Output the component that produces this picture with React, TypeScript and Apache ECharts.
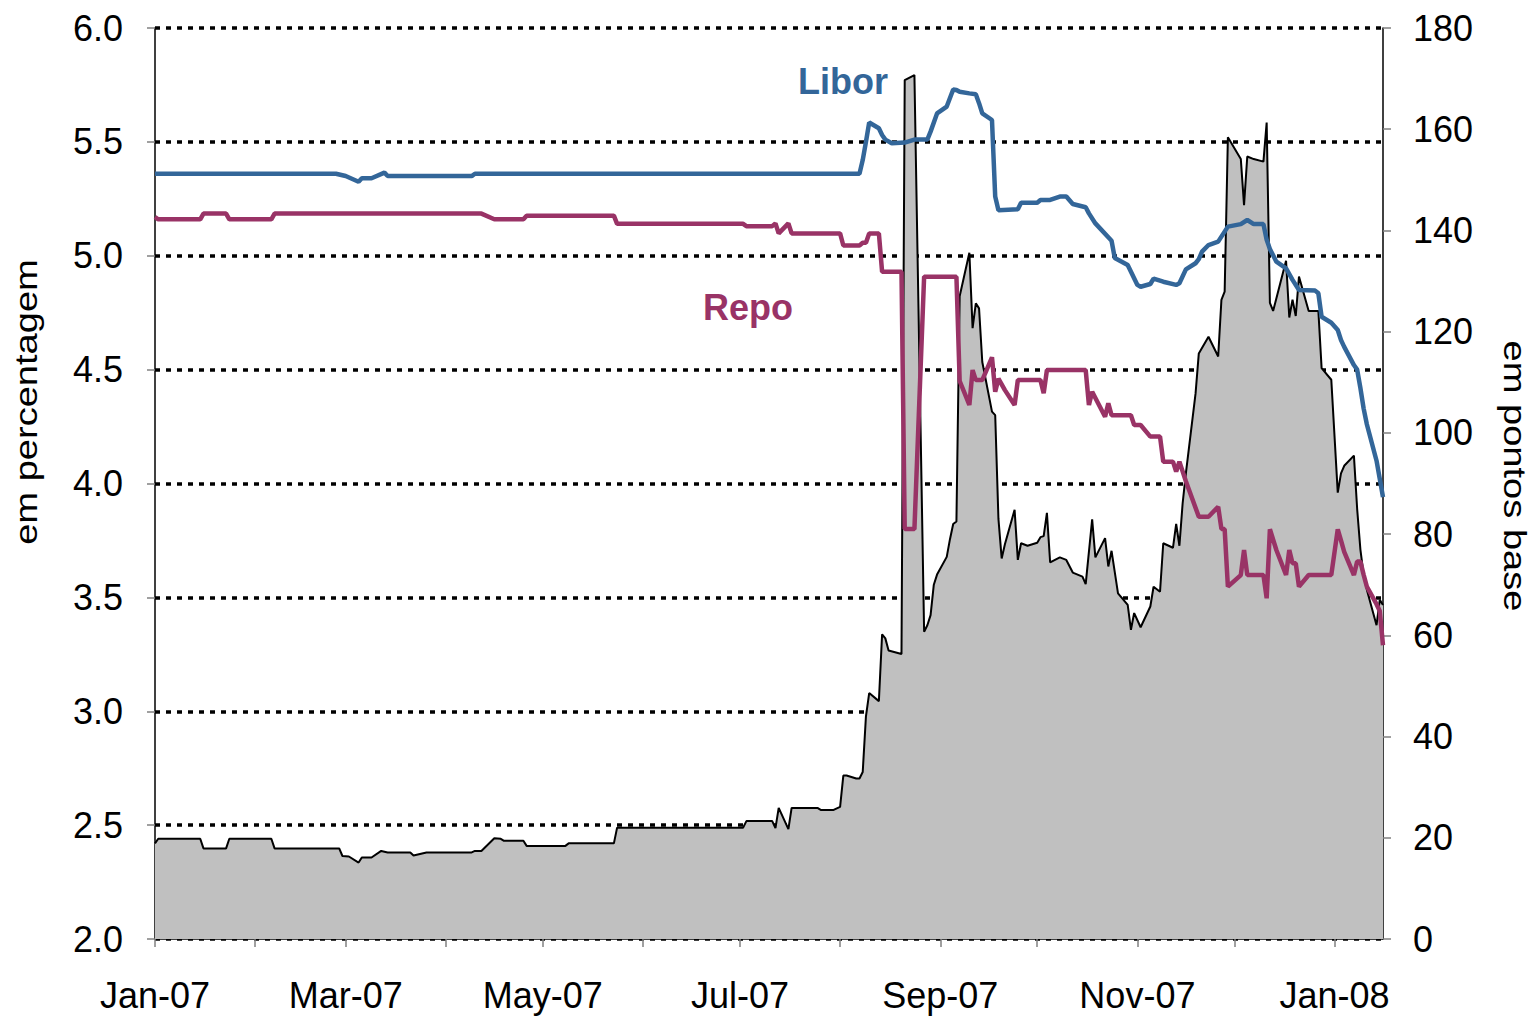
import React, { useEffect, useRef } from "react";
import * as echarts from "echarts";

// ---- Data ----
const xMin = "2007-01-01";
const xMax = "2008-01-16";
const monthNames = ["Jan", "Feb", "Mar", "Apr", "May", "Jun", "Jul", "Aug", "Sep", "Oct", "Nov", "Dec"];

const leftTicks = [2.0, 2.5, 3.0, 3.5, 4.0, 4.5, 5.0, 5.5, 6.0];
const rightTicks = [0, 20, 40, 60, 80, 100, 120, 140, 160, 180];

const liborDates = [
  "2007-01-01", "2007-02-26", "2007-03-01", "2007-03-05", "2007-03-06", "2007-03-09", "2007-03-13", "2007-03-14",
  "2007-04-09", "2007-04-10", "2007-08-07", "2007-08-08", "2007-08-09", "2007-08-10", "2007-08-13", "2007-08-14",
  "2007-08-15", "2007-08-17", "2007-08-21", "2007-08-24", "2007-08-28", "2007-08-29", "2007-08-31", "2007-09-03",
  "2007-09-05", "2007-09-06", "2007-09-07", "2007-09-10", "2007-09-12", "2007-09-13", "2007-09-14", "2007-09-17",
  "2007-09-18", "2007-09-19", "2007-09-25", "2007-09-26", "2007-10-01", "2007-10-02", "2007-10-05", "2007-10-08",
  "2007-10-10", "2007-10-12", "2007-10-16", "2007-10-17", "2007-10-19", "2007-10-24", "2007-10-25", "2007-10-29",
  "2007-11-01", "2007-11-02", "2007-11-05", "2007-11-06", "2007-11-09", "2007-11-13", "2007-11-14", "2007-11-16",
  "2007-11-19", "2007-11-20", "2007-11-21", "2007-11-23", "2007-11-26", "2007-11-29", "2007-12-03", "2007-12-05",
  "2007-12-07", "2007-12-10", "2007-12-11", "2007-12-12", "2007-12-14", "2007-12-17", "2007-12-19", "2007-12-21",
  "2007-12-26", "2007-12-27", "2007-12-28", "2007-12-31", "2008-01-02", "2008-01-03", "2008-01-04", "2008-01-07",
  "2008-01-08", "2008-01-09", "2008-01-10", "2008-01-11", "2008-01-14", "2008-01-15", "2008-01-16",
];
const liborValues = [
  5.36, 5.36, 5.35, 5.325, 5.34, 5.34, 5.365, 5.35,
  5.35, 5.36, 5.36, 5.42, 5.5, 5.585, 5.56, 5.53,
  5.51, 5.494, 5.497, 5.51, 5.51, 5.545, 5.625, 5.655,
  5.73, 5.728, 5.72, 5.713, 5.709, 5.67, 5.625, 5.596,
  5.26, 5.2, 5.204, 5.233, 5.233, 5.245, 5.245, 5.26,
  5.26, 5.227, 5.213, 5.186, 5.142, 5.066, 4.99, 4.959,
  4.872, 4.864, 4.876, 4.9, 4.886, 4.872, 4.879, 4.94,
  4.967, 4.985, 5.018, 5.047, 5.062, 5.128, 5.139, 5.157,
  5.139, 5.139, 5.07, 5.03, 4.974, 4.945, 4.894, 4.85,
  4.847, 4.835, 4.732, 4.706, 4.674, 4.63, 4.6, 4.52,
  4.5, 4.42, 4.33, 4.26, 4.1, 4.02, 3.94,
];

const repoDates = [
  "2007-01-01", "2007-01-02", "2007-01-15", "2007-01-16", "2007-01-23", "2007-01-24", "2007-02-06", "2007-02-07",
  "2007-04-12", "2007-04-16", "2007-04-25", "2007-04-26", "2007-05-23", "2007-05-24", "2007-07-02", "2007-07-03",
  "2007-07-11", "2007-07-12", "2007-07-13", "2007-07-16", "2007-07-17", "2007-08-01", "2007-08-02", "2007-08-07",
  "2007-08-08", "2007-08-09", "2007-08-10", "2007-08-13", "2007-08-14", "2007-08-20", "2007-08-21", "2007-08-24",
  "2007-08-27", "2007-09-06", "2007-09-07", "2007-09-10", "2007-09-11", "2007-09-12", "2007-09-14", "2007-09-17",
  "2007-09-18", "2007-09-19", "2007-09-21", "2007-09-24", "2007-09-25", "2007-10-02", "2007-10-03", "2007-10-04",
  "2007-10-16", "2007-10-17", "2007-10-18", "2007-10-22", "2007-10-23", "2007-10-24", "2007-10-30", "2007-10-31",
  "2007-11-02", "2007-11-05", "2007-11-08", "2007-11-09", "2007-11-12", "2007-11-13", "2007-11-14", "2007-11-16",
  "2007-11-20", "2007-11-23", "2007-11-26", "2007-11-27", "2007-11-28", "2007-11-29", "2007-12-03", "2007-12-04",
  "2007-12-05", "2007-12-10", "2007-12-11", "2007-12-12", "2007-12-14", "2007-12-17", "2007-12-18", "2007-12-19",
  "2007-12-20", "2007-12-21", "2007-12-24", "2007-12-31", "2008-01-02", "2008-01-03", "2008-01-04", "2008-01-07",
  "2008-01-08", "2008-01-09", "2008-01-10", "2008-01-11", "2008-01-14", "2008-01-15", "2008-01-16",
];
const repoValues = [
  5.17, 5.16, 5.16, 5.185, 5.185, 5.16, 5.16, 5.185,
  5.185, 5.16, 5.16, 5.176, 5.176, 5.14, 5.14, 5.13,
  5.13, 5.142, 5.098, 5.142, 5.098, 5.098, 5.045, 5.045,
  5.057, 5.057, 5.098, 5.098, 4.93, 4.93, 3.8, 3.8,
  4.908, 4.908, 4.45, 4.345, 4.498, 4.454, 4.454, 4.554,
  4.403, 4.46, 4.41, 4.345, 4.454, 4.454, 4.396, 4.498,
  4.498, 4.345, 4.403, 4.293, 4.352, 4.3, 4.3, 4.257,
  4.257, 4.206, 4.206, 4.096, 4.096, 4.052, 4.096, 4.01,
  3.854, 3.854, 3.898, 3.8, 3.8, 3.547, 3.598, 3.708,
  3.598, 3.598, 3.496, 3.799, 3.708, 3.598, 3.708, 3.65,
  3.65, 3.547, 3.598, 3.598, 3.799, 3.75, 3.7, 3.598,
  3.657, 3.657, 3.6, 3.547, 3.47, 3.44, 3.29,
];

const spreadDates = [
  "2007-01-01", "2007-01-02", "2007-01-15", "2007-01-16", "2007-01-23", "2007-01-24", "2007-02-06", "2007-02-07",
  "2007-02-27", "2007-02-28", "2007-03-02", "2007-03-05", "2007-03-06", "2007-03-09", "2007-03-12", "2007-03-14",
  "2007-03-21", "2007-03-22", "2007-03-26", "2007-04-09", "2007-04-10", "2007-04-12", "2007-04-16", "2007-04-18",
  "2007-04-19", "2007-04-25", "2007-04-26", "2007-05-08", "2007-05-09", "2007-05-23", "2007-05-24", "2007-07-02",
  "2007-07-03", "2007-07-11", "2007-07-12", "2007-07-13", "2007-07-16", "2007-07-17", "2007-07-25", "2007-07-26",
  "2007-07-30", "2007-08-01", "2007-08-02", "2007-08-03", "2007-08-06", "2007-08-07", "2007-08-08", "2007-08-09",
  "2007-08-10", "2007-08-13", "2007-08-14", "2007-08-15", "2007-08-16", "2007-08-20", "2007-08-21", "2007-08-24",
  "2007-08-27", "2007-08-28", "2007-08-29", "2007-08-30", "2007-08-31", "2007-09-03", "2007-09-04", "2007-09-05",
  "2007-09-06", "2007-09-07", "2007-09-10", "2007-09-11", "2007-09-12", "2007-09-13", "2007-09-14", "2007-09-17",
  "2007-09-18", "2007-09-19", "2007-09-20", "2007-09-21", "2007-09-24", "2007-09-25", "2007-09-26", "2007-09-28",
  "2007-10-01", "2007-10-02", "2007-10-03", "2007-10-04", "2007-10-05", "2007-10-08", "2007-10-10", "2007-10-12",
  "2007-10-15", "2007-10-16", "2007-10-18", "2007-10-19", "2007-10-22", "2007-10-23", "2007-10-24", "2007-10-26",
  "2007-10-29", "2007-10-30", "2007-10-31", "2007-11-02", "2007-11-05", "2007-11-06", "2007-11-08", "2007-11-09",
  "2007-11-12", "2007-11-13", "2007-11-14", "2007-11-15", "2007-11-16", "2007-11-19", "2007-11-20", "2007-11-23",
  "2007-11-26", "2007-11-27", "2007-11-28", "2007-11-29", "2007-12-03", "2007-12-04", "2007-12-05", "2007-12-07",
  "2007-12-10", "2007-12-11", "2007-12-12", "2007-12-13", "2007-12-17", "2007-12-18", "2007-12-19", "2007-12-20",
  "2007-12-21", "2007-12-24", "2007-12-27", "2007-12-28", "2007-12-31", "2008-01-02", "2008-01-03", "2008-01-04",
  "2008-01-07", "2008-01-08", "2008-01-09", "2008-01-10", "2008-01-11", "2008-01-14", "2008-01-15", "2008-01-16",
];
const spreadValues = [
  18.9, 19.8, 19.8, 17.9, 17.9, 19.8, 19.8, 17.9,
  17.9, 16.4, 16.3, 15.1, 16.1, 16.1, 17.4, 17.1,
  17.1, 16.5, 17.1, 17.1, 17.4, 17.4, 19.9, 19.8,
  19.4, 19.4, 18.4, 18.4, 18.9, 18.9, 22.0, 22.0,
  23.3, 23.3, 21.9, 25.9, 21.7, 25.9, 25.9, 25.5,
  25.5, 26.1, 32.3, 32.3, 31.7, 31.7, 33.0, 44.0,
  48.6, 47.0, 60.2, 59.4, 57.0, 56.3, 169.7, 170.7,
  60.7, 62.0, 64.0, 70.0, 72.0, 75.5, 79.0, 82.0,
  82.5, 127.0, 135.6, 120.7, 125.6, 124.6, 114.0, 104.2,
  103.5, 83.0, 75.2, 78.0, 84.8, 74.9, 78.2, 77.7,
  78.3, 79.4, 79.6, 84.2, 74.4, 75.4, 74.9, 72.4,
  71.6, 70.1, 82.9, 75.4, 79.2, 73.6, 76.7, 68.3,
  66.0, 61.1, 64.4, 61.6, 65.7, 69.6, 68.6, 78.2,
  77.3, 82.0, 77.7, 86.1, 92.0, 107.8, 115.7, 119.0,
  115.1, 126.3, 127.9, 158.4, 154.1, 145.0, 154.6, 154.1,
  153.6, 161.3, 125.7, 124.1, 134.0, 122.8, 126.3, 123.1,
  130.9, 124.1, 124.1, 112.8, 110.5, 88.2, 92.0, 93.5,
  95.5, 85.0, 77.0, 72.0, 69.0, 62.0, 67.0, 66.0,
];

const FONT = "'Liberation Sans', Arial, Helvetica, sans-serif";
const BLUE = "#336699";
const PURPLE = "#993366";

const zip = (d: string[], v: number[]) => d.map((x, i) => [x, v[i]]);

export default function App() {
  const ref = useRef<HTMLDivElement>(null);
  useEffect(() => {
    if (!ref.current) return;
    const chart = echarts.init(ref.current, null, { renderer: "svg" });
    const dayMs = 24 * 3600 * 1000;
    chart.setOption({
      animation: false,
      backgroundColor: "#ffffff",
      grid: { left: 155, right: 155, top: 28, bottom: 77, containLabel: false, outerBoundsMode: "none" },
      xAxis: {
        type: "time",
        min: xMin,
        max: xMax,
        minInterval: 28 * dayMs,
        maxInterval: 31 * dayMs,
        splitNumber: 12,
        axisLine: { show: true, lineStyle: { color: "#000", width: 1.5 } },
        axisTick: { show: true, inside: false, length: 8, lineStyle: { color: "#808080", width: 1.5 } },
        splitLine: { show: false },
        axisLabel: {
          show: true,
          margin: 38,
          fontSize: 36,
          fontFamily: FONT,
          color: "#000",
          hideOverlap: false,
          showMinLabel: true,
          showMaxLabel: false,
          formatter: (value: number) => {
            const d = new Date(value);
            if (d.getDate() !== 1) return "";
            const m = d.getMonth();
            if (m % 2 !== 0) return "";
            return monthNames[m] + "-" + String(d.getFullYear()).slice(2);
          },
        },
      },
      yAxis: [
        {
          type: "value",
          min: leftTicks[0],
          max: leftTicks[leftTicks.length - 1],
          interval: 0.5,
          position: "left",
          axisLine: { show: true, lineStyle: { color: "#000", width: 1.5 } },
          axisTick: { show: true, inside: false, length: 8, lineStyle: { color: "#808080", width: 1.5 } },
          splitLine: { show: true, lineStyle: { color: "#000", width: 3.5, type: [5, 6] } },
          axisLabel: {
            margin: 32,
            fontSize: 36,
            fontFamily: FONT,
            color: "#000",
            formatter: (v: number) => v.toFixed(1),
          },
        },
        {
          type: "value",
          min: rightTicks[0],
          max: rightTicks[rightTicks.length - 1],
          interval: 20,
          position: "right",
          axisLine: { show: true, lineStyle: { color: "#000", width: 1.5 } },
          axisTick: { show: true, inside: false, length: 8, lineStyle: { color: "#808080", width: 1.5 } },
          splitLine: { show: false },
          axisLabel: {
            margin: 30,
            fontSize: 36,
            fontFamily: FONT,
            color: "#000",
          },
        },
      ],
      series: [
        {
          name: "Spread",
          type: "line",
          yAxisIndex: 1,
          data: zip(spreadDates, spreadValues),
          symbol: "none",
          lineStyle: { color: "#000", width: 2 },
          areaStyle: { color: "#c0c0c0", opacity: 1 },
          z: 1,
        },
        {
          name: "Libor",
          type: "line",
          yAxisIndex: 0,
          data: zip(liborDates, liborValues),
          symbol: "none",
          lineStyle: { color: BLUE, width: 4.5 },
          z: 3,
        },
        {
          name: "Repo",
          type: "line",
          yAxisIndex: 0,
          data: zip(repoDates, repoValues),
          symbol: "none",
          lineStyle: { color: PURPLE, width: 4.5 },
          z: 3,
        },
      ],
      graphic: [
        {
          type: "text",
          x: 843,
          y: 81,
          style: { text: "Libor", fill: BLUE, fontSize: 36, fontWeight: "bold", fontFamily: FONT, align: "center", verticalAlign: "middle" },
        },
        {
          type: "text",
          x: 748,
          y: 307,
          style: { text: "Repo", fill: PURPLE, fontSize: 36, fontWeight: "bold", fontFamily: FONT, align: "center", verticalAlign: "middle" },
        },
        {
          type: "text",
          x: 26,
          y: 402,
          rotation: Math.PI / 2,
          scaleX: 1.19,
          style: { text: "em percentagem", fill: "#000", fontSize: 32, fontFamily: FONT, align: "center", verticalAlign: "middle" },
        },
        {
          type: "text",
          x: 1515,
          y: 476,
          rotation: -Math.PI / 2,
          scaleX: 1.19,
          style: { text: "em pontos base", fill: "#000", fontSize: 32, fontFamily: FONT, align: "center", verticalAlign: "middle" },
        },
      ],
    });
    return () => chart.dispose();
  }, []);
  return <div ref={ref} style={{ position: "absolute", left: 0, top: 0, width: 1538, height: 1016 }} />;
}
